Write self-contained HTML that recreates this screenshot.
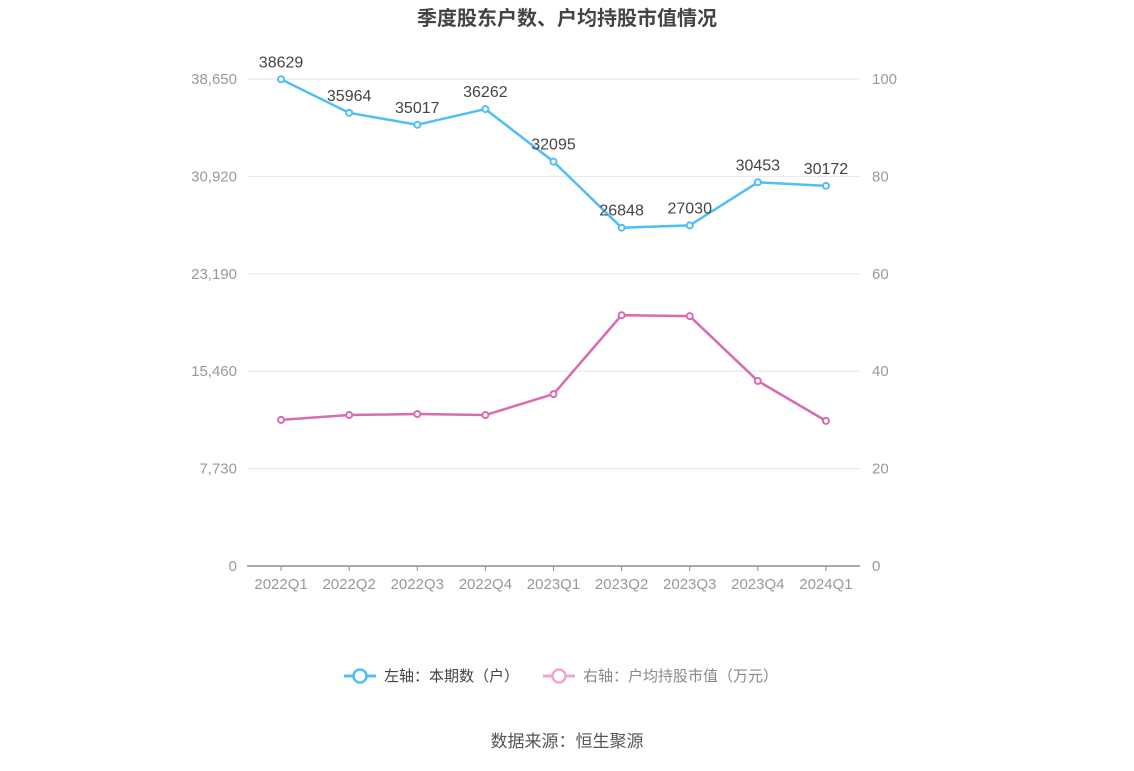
<!DOCTYPE html>
<html><head><meta charset="utf-8"><style>
body{margin:0;background:#fff;width:1134px;height:766px;overflow:hidden}
svg text{font-family:"Liberation Sans","Noto Sans CJK SC",sans-serif}
</style></head><body>
<svg width="1134" height="766" id="c">
<text x="567" y="25" text-anchor="middle" font-size="20" font-weight="bold" fill="#444">季度股东户数、户均持股市值情况</text>
<g id="grid"></g>
<g id="marks"></g>
<g>
<g>
<line x1="344" y1="676" x2="376" y2="676" stroke="#4fbff5" stroke-width="3"/>
<circle cx="360" cy="676" r="6.5" fill="#fff" stroke="#4fbff5" stroke-width="2.5"/>
<text x="384" y="681" font-size="15" fill="#444">左轴：本期数（户）</text></g>
<g>
<line x1="543" y1="676" x2="575" y2="676" stroke="#f0a6cf" stroke-width="3"/>
<circle cx="559" cy="676" r="6.5" fill="#fff" stroke="#f0a6cf" stroke-width="2.5"/>
<text x="583" y="681" font-size="15" fill="#888">右轴：户均持股市值（万元）</text></g>
</g>
<text x="567" y="747" text-anchor="middle" font-size="17" fill="#555">数据来源：恒生聚源</text>
</svg>
<script>
const categories=["2022Q1","2022Q2","2022Q3","2022Q4","2023Q1","2023Q2","2023Q3","2023Q4","2024Q1"];
const holders=[38629,35964,35017,36262,32095,26848,27030,30453,30172];
const avgValue=[30.0,31.0,31.2,31.0,35.3,51.5,51.3,38.0,29.8];
const leftTicks=["0","7,730","15,460","23,190","30,920","38,650"];
const rightTicks=["0","20","40","60","80","100"];
const NS="http://www.w3.org/2000/svg";
const x0=247,x1=860,y0=566,y1=79;
const bw=(x1-x0)/categories.length;
const xs=i=>x0+bw*(i+0.5);
const yL=v=>y0-(v/38650)*(y0-y1);
const yR=v=>y0-(v/100)*(y0-y1);
function mk(t,a,p){const e=document.createElementNS(NS,t);for(const k in a)e.setAttribute(k,a[k]);p.appendChild(e);return e;}
const g=document.getElementById('grid'),m=document.getElementById('marks');
leftTicks.forEach((t,i)=>{
 const y=y0-i*(y0-y1)/(leftTicks.length-1);
 if(i>0){const l=mk('line',{x1:x0,x2:x1,y1:y,y2:y,stroke:'#e3e6f0'},g);
 
 }
 const a=mk('text',{x:237,y:y+5,'text-anchor':'end','font-size':15,fill:'#999'},g);a.textContent=t;
 
 
 const b=mk('text',{x:872,y:y+5,'font-size':15,fill:'#999'},g);b.textContent=rightTicks[i];
 
 
});
const ax=mk('line',{x1:x0,x2:x1,y1:y0,y2:y0,stroke:'#8c8c9c','stroke-width':1.5},g);


categories.forEach((c,i)=>{
 mk('line',{x1:xs(i),x2:xs(i),y1:y0,y2:y0+5,stroke:'#8c8c9c'},g);
 const t=mk('text',{x:xs(i),y:y0+23,'text-anchor':'middle','font-size':15,fill:'#999'},g);t.textContent=c;
 
 
});
function series(vals,yf,color,name,labels){
 const p=mk('polyline',{points:vals.map((v,i)=>xs(i)+','+yf(v)).join(' '),fill:'none',stroke:color,'stroke-width':2.5},m);
 
 
 vals.forEach((v,i)=>{
  const c=mk('circle',{cx:xs(i),cy:yf(v),r:3,fill:'#fff',stroke:color,'stroke-width':2},m);
  
  
  if(labels){const t=mk('text',{x:xs(i),y:yf(v)-12,'text-anchor':'middle','font-size':16,fill:'#444'},m);t.textContent=v;
  
  }
 });
}
series(avgValue,yR,'#d96bb0','avg-value',false);
series(holders,yL,'#4fbff5','holders',true);
</script>
</body></html>
